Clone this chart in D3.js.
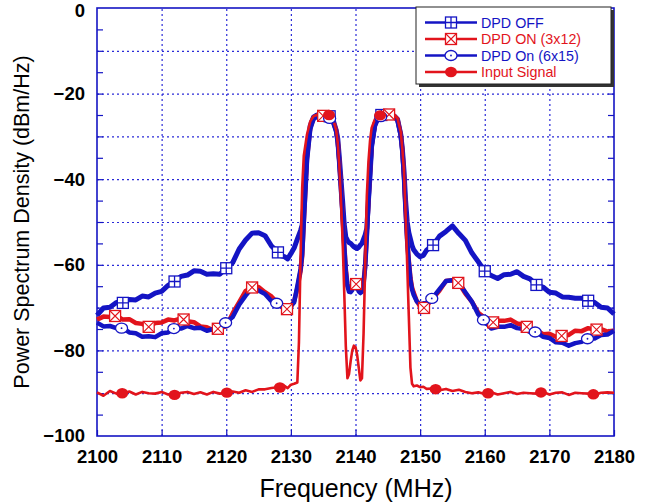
<!DOCTYPE html>
<html>
<head>
<meta charset="utf-8">
<script src="https://cdn.jsdelivr.net/npm/d3@7"></script>
<style>
body { margin: 0; background: #fff; }
text { font-family: Arial, "Liberation Sans", sans-serif; }
</style>
</head>
<body>
<svg width="648" height="503"></svg>
<script>
// frequency points (MHz), finer around the two carriers
let freq = [
  2100, 2101, 2102, 2103, 2104, 2105, 2106, 2107, 2108, 2109,
  2110, 2111, 2112, 2113, 2114, 2115, 2116, 2117, 2118, 2119,
  2120, 2121, 2122, 2123, 2124, 2125, 2126, 2127, 2128,
  2128.5, 2129, 2129.5, 2130, 2130.5, 2131, 2131.25, 2131.5, 2131.75, 2132,
  2132.5, 2133, 2133.5, 2134, 2135, 2136, 2136.5, 2137, 2137.25, 2137.5,
  2137.75, 2138, 2138.25, 2138.5, 2138.75, 2139, 2139.25, 2139.5, 2139.75, 2140,
  2140.25, 2140.5, 2140.75, 2141, 2141.25, 2141.5, 2141.75, 2142, 2142.25, 2142.5,
  2143, 2143.5, 2144, 2145, 2146, 2146.5, 2147, 2147.25, 2147.5, 2147.75,
  2148, 2148.25, 2148.5, 2148.75, 2149, 2149.5, 2150, 2150.5,
  2151, 2152, 2153, 2154, 2155, 2156, 2157, 2158, 2159, 2160,
  2161, 2162, 2163, 2164, 2165, 2166, 2167, 2168, 2169, 2170,
  2171, 2172, 2173, 2174, 2175, 2176, 2177, 2178, 2179, 2180
];

let dpdOff = [
  -71.8, -70.1, -69.9, -68.8, -68.9, -68.1, -68.2, -67.3, -67.5, -66.6,
  -66.2, -64.8, -63.9, -62.7, -62.4, -61.4, -61.5, -62.2, -62.1, -62.2,
  -60.8, -59.5, -56.3, -54.2, -52.6, -52.5, -53.2, -55.6, -57.1,
  -57.9, -58.1, -58.6, -57.4, -56.1, -54.0, -53.0, -52.0, -50.7, -46.0,
  -33.0, -27.5, -25.5, -25.0, -25.0, -25.3, -26.0, -28.5, -30.5, -35.0,
  -40.0, -45.0, -50.5, -53.5, -54.3, -54.8, -55.0, -55.4, -55.8, -56.0,
  -56.2, -55.9, -55.4, -55.0, -54.0, -53.0, -51.5, -45.0, -39.0, -32.0,
  -27.0, -25.5, -25.0, -25.0, -25.2, -26.0, -29.5, -33.0, -38.0, -45.0,
  -50.0, -52.5, -54.0, -55.5, -56.5, -57.5, -58.1, -57.8,
  -56.6, -55.4, -53.3, -52.2, -50.9, -52.7, -54.3, -57.2, -59.3, -61.5,
  -62.5, -63.2, -62.3, -62.2, -61.6, -62.7, -63.3, -64.7, -65.2, -66.4,
  -66.6, -67.5, -67.6, -67.8, -67.8, -68.4, -68.8, -69.9, -70.1, -71.5
];

let dpdOn3x12 = [
  -72.8, -72.1, -72.2, -71.9, -72.8, -72.7, -73.6, -73.8, -74.5, -73.6,
  -73.5, -72.8, -73.0, -72.5, -73.2, -73.4, -74.4, -74.6, -75.3, -74.8,
  -74.4, -71.3, -68.7, -66.1, -65.3, -65.2, -66.4, -67.4, -69.0,
  -69.1, -70.2, -70.4, -69.8, -68.5, -65.5, -63.5, -61.5, -58.0, -50.0,
  -35.0, -28.0, -25.8, -25.2, -25.2, -25.5, -26.3, -28.5, -31.0, -36.0,
  -42.0, -48.0, -55.0, -61.0, -64.5, -65.8, -66.0, -65.5, -64.6, -64.3,
  -64.8, -65.8, -66.3, -66.0, -64.0, -60.0, -53.0, -45.0, -38.0, -32.0,
  -27.3, -25.5, -25.0, -24.8, -25.2, -26.0, -29.5, -33.0, -39.0, -47.0,
  -54.0, -59.0, -63.0, -65.3, -66.5, -68.5, -69.8, -70.2,
  -69.6, -67.8, -66.0, -63.8, -63.6, -64.3, -66.7, -68.6, -71.2, -72.4,
  -73.6, -73.1, -73.1, -72.8, -73.7, -74.0, -75.0, -75.2, -76.2, -76.1,
  -76.8, -76.6, -76.4, -75.4, -75.5, -74.8, -75.2, -75.0, -75.6, -75.4
];

let dpdOn6x15 = [
  -73.5, -74.4, -74.3, -74.8, -74.8, -75.8, -76.0, -76.8, -76.7, -76.9,
  -76.0, -75.8, -74.8, -74.9, -74.3, -74.8, -74.7, -75.4, -75.0, -74.8,
  -73.4, -72.2, -69.3, -67.2, -65.4, -66.0, -66.8, -68.5, -69.1,
  -69.8, -70.2, -70.5, -69.6, -68.8, -65.0, -63.0, -61.0, -57.5, -50.0,
  -35.5, -28.3, -26.0, -25.4, -25.4, -25.8, -26.6, -28.8, -31.5, -36.5,
  -42.5, -48.5, -55.5, -61.5, -65.0, -66.3, -66.4, -65.9, -65.1, -64.8,
  -65.3, -66.2, -66.6, -66.3, -64.5, -60.5, -53.5, -45.5, -38.5, -32.5,
  -27.6, -25.8, -25.3, -25.1, -25.4, -26.3, -29.8, -33.5, -39.5, -47.5,
  -54.5, -59.5, -63.5, -65.8, -67.0, -68.6, -69.2, -69.0,
  -68.9, -67.6, -65.7, -63.8, -63.6, -64.2, -66.4, -68.6, -71.6, -73.2,
  -74.9, -74.5, -74.5, -74.1, -74.8, -75.0, -75.7, -75.7, -76.8, -77.1,
  -78.1, -78.2, -78.9, -78.3, -78.0, -77.2, -77.2, -76.4, -76.3, -75.4
];

let inputSignal = [
  -89.8, -90.6, -89.5, -90.1, -90.0, -89.6, -90.3, -89.7, -90.0, -90.1,
  -89.7, -90.3, -90.4, -89.9, -89.7, -90.2, -89.8, -90.3, -89.7, -90.1,
  -89.9, -89.6, -89.9, -89.3, -89.7, -89.1, -89.1, -88.8, -88.6,
  -88.7, -88.3, -88.8, -88.0, -87.8, -87.5, -78.0, -58.0, -42.0, -34.5,
  -29.5, -26.5, -25.3, -25.0, -24.9, -25.0, -25.8, -28.5, -31.5, -37.0,
  -45.0, -54.0, -66.0, -79.0, -86.5, -85.5, -82.5, -80.0, -78.9, -79.2,
  -81.0, -84.0, -87.0, -86.5, -76.0, -60.0, -44.0, -36.0, -31.0, -28.0,
  -26.0, -25.2, -25.0, -24.8, -25.0, -25.8, -29.0, -33.0, -38.0, -48.0,
  -60.0, -72.0, -84.0, -87.8, -88.4, -88.2, -88.6, -88.5,
  -89.0, -88.9, -89.3, -89.0, -89.5, -89.2, -89.7, -90.0, -89.8, -90.2,
  -89.8, -90.3, -90.0, -89.7, -90.2, -89.9, -90.0, -90.1, -89.7, -90.3,
  -89.9, -89.8, -90.4, -89.9, -90.0, -90.1, -90.3, -89.9, -89.8, -89.9
];

// where the symbols sit on each curve (MHz)
let offMarks = [2104, 2112, 2120, 2128, 2136, 2144, 2152, 2160, 2168, 2176];
let on3x12Marks = [2102.8, 2108, 2113.4, 2118.7, 2124, 2129.4, 2135, 2140.1, 2145.2, 2150.6, 2155.9, 2161.3, 2166.5, 2171.9, 2177.3];
let on6x15Marks = [2103.8, 2111.9, 2119.9, 2127.8, 2136, 2143.9, 2151.8, 2159.8, 2167.8, 2175.9];
let inputMarks = [2103.9, 2112, 2120.1, 2128.3, 2135.9, 2143.8, 2152.4, 2160.5, 2168.7, 2176.8];

let legendNames = ["DPD OFF", "DPD ON (3x12)", "DPD On (6x15)", "Input Signal"];
let xTicks = [2100, 2110, 2120, 2130, 2140, 2150, 2160, 2170, 2180];
let yTicks = [0, -20, -40, -60, -80, -100];

let blue = "#1414c4";
let red = "#e2141c";
let gridColor = "#2a2ad8";

let svg = d3.select("svg");

let x = d3.scaleLinear().domain([2100, 2180]).range([97, 614]);
let y = d3.scaleLinear().domain([-100, 0]).range([436, 8]);

// grid
svg.append("g")
  .attr("transform", "translate(0,436)")
  .call(d3.axisBottom(x).tickValues(d3.range(2110, 2180, 10)).tickSize(-428).tickFormat(""))
  .call(g => g.select(".domain").remove())
  .selectAll("line")
  .attr("stroke", gridColor).attr("stroke-width", 1.2).attr("stroke-dasharray", "2,3");

svg.append("g")
  .attr("transform", "translate(97,0)")
  .call(d3.axisLeft(y).tickValues(d3.range(-90, 0, 10)).tickSize(-517).tickFormat(""))
  .call(g => g.select(".domain").remove())
  .selectAll("line")
  .attr("stroke", gridColor).attr("stroke-width", 1.2).attr("stroke-dasharray", "2,3");

// small inner ticks every 5 dB on both sides
svg.append("g")
  .attr("transform", "translate(97,0)")
  .call(d3.axisLeft(y).tickValues(d3.range(-95, 0, 5)).tickSize(-6).tickFormat(""))
  .call(g => g.select(".domain").remove())
  .selectAll("line").attr("stroke", blue).attr("stroke-width", 1.2);

svg.append("g")
  .attr("transform", "translate(614,0)")
  .call(d3.axisRight(y).tickValues(d3.range(-95, 0, 5)).tickSize(-6).tickFormat(""))
  .call(g => g.select(".domain").remove())
  .selectAll("line").attr("stroke", blue).attr("stroke-width", 1.2);

// tick labels
let xAxis = svg.append("g")
  .attr("transform", "translate(0,436)")
  .call(d3.axisBottom(x).tickValues(xTicks).tickSize(-6).tickPadding(14).tickFormat(d3.format("d")));
xAxis.select(".domain").remove();
xAxis.selectAll("line").attr("stroke", blue).attr("stroke-width", 1.2);
xAxis.selectAll("text")
  .attr("font-family", "Arial, 'Liberation Sans', sans-serif")
  .attr("font-size", 18.5).attr("font-weight", "bold").attr("fill", "#000");

let yAxis = svg.append("g")
  .attr("transform", "translate(97,0)")
  .call(d3.axisLeft(y).tickValues(yTicks).tickSize(0).tickPadding(12));
yAxis.select(".domain").remove();
yAxis.selectAll("text")
  .attr("font-family", "Arial, 'Liberation Sans', sans-serif")
  .attr("font-size", 18.5).attr("font-weight", "bold").attr("fill", "#000");
// keep the top label inside the page
yAxis.selectAll(".tick").filter(d => d === 0).select("text").attr("dy", "0.45em");

// frame
svg.append("rect")
  .attr("x", 97).attr("y", 8).attr("width", 517).attr("height", 428)
  .attr("fill", "none").attr("stroke", blue).attr("stroke-width", 1.6);

// axis titles
svg.append("text")
  .attr("x", 356).attr("y", 497)
  .attr("text-anchor", "middle").attr("font-size", 25)
  .text("Frequency (MHz)");

svg.append("text")
  .attr("transform", "translate(29,222) rotate(-90)")
  .attr("text-anchor", "middle").attr("font-size", 21.5)
  .text("Power Spectrum Density (dBm/Hz)");

// curves
let line = d3.line().x(d => x(d[0])).y(d => y(d[1]));

let series = [
  { vals: dpdOff, color: blue, width: 5, marks: offMarks, sym: "squarePlus" },
  { vals: dpdOn3x12, color: red, width: 4.5, marks: on3x12Marks, sym: "squareX" },
  { vals: dpdOn6x15, color: blue, width: 4.5, marks: on6x15Marks, sym: "circleOpen" },
  { vals: inputSignal, color: red, width: 2.6, marks: inputMarks, sym: "circleFill" }
];

let plot = svg.append("g");

series.forEach(s => {
  plot.append("path")
    .datum(d3.zip(freq, s.vals))
    .attr("d", line)
    .attr("fill", "none")
    .attr("stroke", s.color)
    .attr("stroke-width", s.width)
    .attr("stroke-linejoin", "round");
});

function valueAt(vals, f) {
  let i = d3.bisectLeft(freq, f);
  if (i <= 0) return vals[0];
  if (i >= freq.length) return vals[vals.length - 1];
  let t = (f - freq[i - 1]) / (freq[i] - freq[i - 1]);
  return vals[i - 1] + t * (vals[i] - vals[i - 1]);
}

function drawSymbol(g, sym, color) {
  if (sym === "squarePlus") {
    g.append("rect").attr("x", -5.5).attr("y", -5.5).attr("width", 11).attr("height", 11)
      .attr("fill", "#fff").attr("stroke", color).attr("stroke-width", 1.3);
    g.append("path").attr("d", "M-5.5,0H5.5M0,-5.5V5.5").attr("stroke", color).attr("stroke-width", 1.3);
  } else if (sym === "squareX") {
    g.append("rect").attr("x", -5.5).attr("y", -5.5).attr("width", 11).attr("height", 11)
      .attr("fill", "#fff").attr("stroke", color).attr("stroke-width", 1.3);
    g.append("path").attr("d", "M-5.5,-5.5L5.5,5.5M5.5,-5.5L-5.5,5.5").attr("stroke", color).attr("stroke-width", 1.1);
  } else if (sym === "circleOpen") {
    g.append("ellipse").attr("rx", 6).attr("ry", 5)
      .attr("fill", "#fff").attr("stroke", color).attr("stroke-width", 1.3);
    g.append("circle").attr("r", 0.9).attr("fill", color);
  } else {
    g.append("ellipse").attr("rx", 6).attr("ry", 5.2).attr("fill", color);
  }
}

series.forEach(s => {
  s.marks.forEach(f => {
    let g = plot.append("g")
      .attr("transform", "translate(" + x(f) + "," + y(valueAt(s.vals, f)) + ")");
    drawSymbol(g, s.sym, s.color);
  });
});

// legend
let legend = svg.append("g").attr("transform", "translate(416,7)");
legend.append("rect").attr("x", 3).attr("y", 3).attr("width", 195).attr("height", 77).attr("fill", "#333");
legend.append("rect").attr("x", 0).attr("y", 0).attr("width", 195).attr("height", 77)
  .attr("fill", "#fff").attr("stroke", "#222").attr("stroke-width", 1);

legendNames.forEach((name, i) => {
  let s = series[i];
  let row = legend.append("g").attr("transform", "translate(0," + (15.5 + i * 16.5) + ")");
  row.append("line").attr("x1", 9).attr("x2", 61).attr("y1", 0).attr("y2", 0)
    .attr("stroke", s.color).attr("stroke-width", 2.5);
  drawSymbol(row.append("g").attr("transform", "translate(35,0)"), s.sym, s.color);
  row.append("text").attr("x", 65).attr("y", 5.2)
    .attr("font-size", 14.3).attr("fill", s.color).text(name);
});
</script>
</body>
</html>
